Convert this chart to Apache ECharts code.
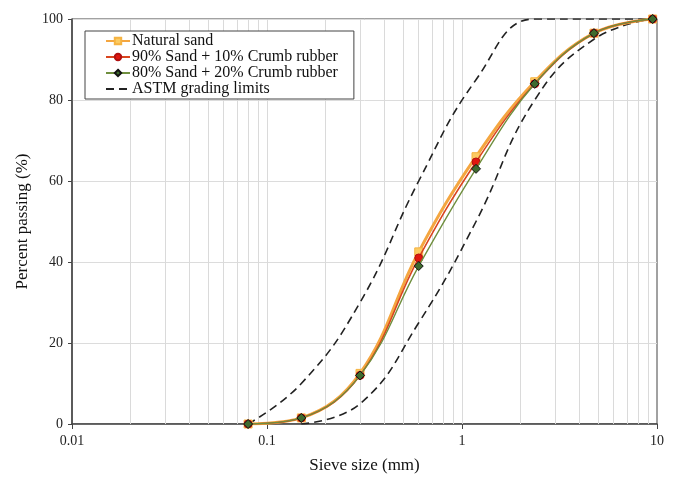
<!DOCTYPE html>
<html lang="en">
<head>
    <meta charset="UTF-8">
    <title>Grading curves</title>
    <style>
        html, body { margin: 0; padding: 0; background: #fff; }
        #main { width: 676px; height: 484px; }
    </style>
</head>
<body>
    <div id="main"></div>
</body>
<script src="https://cdn.jsdelivr.net/npm/echarts@6/dist/echarts.min.js"></script>
<script>
    // sieve sizes (mm)
    const sieves = [0.08, 0.15, 0.3, 0.6, 1.18, 2.36, 4.75, 9.5]
    const naturalSand = [0, 1.5, 12.5, 42.5, 66, 84.5, 96.5, 100]
    const rubber10 = [0, 1.5, 12, 41, 64.7, 84, 96.5, 100]
    const rubber20 = [0, 1.5, 12, 39, 63, 84, 96.5, 100]

    // ASTM C33 limits
    const upperSieves = [0.08, 0.15, 0.3, 0.6, 1.18, 2.36, 4.75, 9.5]
    const upperLimit = [0, 10, 30, 60, 85, 100, 100, 100]
    const lowerSieves = [0.15, 0.3, 0.6, 1.18, 2.36, 4.75, 9.5]
    const lowerLimit = [0, 5, 25, 50, 80, 95, 100]

    // minor log grid lines
    const minorGrid = [0.02, 0.03, 0.04, 0.05, 0.06, 0.07, 0.08, 0.09, 0.1,
        0.2, 0.3, 0.4, 0.5, 0.6, 0.7, 0.8, 0.9, 1,
        2, 3, 4, 5, 6, 7, 8, 9]

    const font = 'Liberation Serif'
    const pair = (xs, ys) => xs.map((x, i) => [x, ys[i]])

    const chart = echarts.init(document.getElementById('main'))
    chart.setOption({
        animation: false,
        textStyle: { fontFamily: font },
        grid: { left: 72, right: 19, top: 19, bottom: 60, show: true, borderColor: '#444', borderWidth: 1 },
        legend: {
            orient: 'vertical',
            left: 85,
            top: 31,
            z: 20,
            padding: [2, 16, 2, 20],
            itemGap: 0,
            itemWidth: 24,
            itemHeight: 8,
            backgroundColor: '#fff',
            borderColor: '#444',
            borderWidth: 1,
            textStyle: { fontFamily: font, fontSize: 16, lineHeight: 16, color: '#111', padding: [0, 0, 0, -3] },
            data: ['Natural sand', '90% Sand + 10% Crumb rubber', '80% Sand + 20% Crumb rubber', 'ASTM grading limits']
        },
        xAxis: {
            type: 'log',
            logBase: 10,
            min: 0.01,
            max: 10,
            name: 'Sieve size (mm)',
            nameLocation: 'middle',
            nameGap: 33,
            nameTextStyle: { fontFamily: font, fontSize: 17, color: '#111' },
            axisLine: { lineStyle: { color: '#444', width: 1.5 } },
            axisTick: { show: true, length: 5, lineStyle: { color: '#444' } },
            axisLabel: { fontFamily: font, fontSize: 14, color: '#222', margin: 10 },
            splitLine: { show: false }
        },
        yAxis: {
            type: 'value',
            min: 0,
            max: 100,
            interval: 20,
            name: 'Percent passing (%)',
            nameLocation: 'middle',
            nameGap: 40,
            nameTextStyle: { fontFamily: font, fontSize: 17, color: '#111' },
            axisLine: { show: true, lineStyle: { color: '#444', width: 1.5 } },
            axisTick: { show: true, length: 4, lineStyle: { color: '#444' } },
            axisLabel: { fontFamily: font, fontSize: 14, color: '#222', margin: 9 },
            splitLine: { show: true, lineStyle: { color: '#dcdcdc', width: 1 } }
        },
        series: [
            {
                name: 'grid',
                type: 'line',
                data: [],
                silent: true,
                z: 1,
                markLine: {
                    silent: true,
                    z: 1,
                    symbol: 'none',
                    label: { show: false },
                    lineStyle: { color: '#dadada', width: 1, type: 'solid' },
                    data: minorGrid.map(v => ({ xAxis: v }))
                }
            },
            {
                name: 'ASTM grading limits',
                type: 'line',
                data: pair(upperSieves, upperLimit),
                smooth: 0.45,
                showSymbol: false,
                symbol: 'circle',
                itemStyle: { color: 'rgba(0,0,0,0)', borderWidth: 0 },
                lineStyle: { color: '#222', width: 1.6, type: [8, 5] },
                z: 3
            },
            {
                name: 'ASTM grading limits',
                type: 'line',
                data: pair(lowerSieves, lowerLimit),
                smooth: 0.45,
                showSymbol: false,
                symbol: 'circle',
                itemStyle: { color: 'rgba(0,0,0,0)', borderWidth: 0 },
                lineStyle: { color: '#222', width: 1.6, type: [8, 5] },
                z: 3
            },
            {
                name: 'Natural sand',
                type: 'line',
                data: pair(sieves, naturalSand),
                smooth: 0.4,
                symbol: 'rect',
                symbolSize: 8,
                itemStyle: { color: '#FCCB62', borderColor: '#F5B342', borderWidth: 1 },
                lineStyle: { color: '#F4A640', width: 3 },
                z: 4
            },
            {
                name: '90% Sand + 10% Crumb rubber',
                type: 'line',
                data: pair(sieves, rubber10),
                smooth: 0.4,
                symbol: 'circle',
                symbolSize: 8,
                itemStyle: { color: '#E0160E', borderColor: '#B01010', borderWidth: 1 },
                lineStyle: { color: '#D9451E', width: 1.6 },
                z: 5
            },
            {
                name: '80% Sand + 20% Crumb rubber',
                type: 'line',
                data: pair(sieves, rubber20),
                smooth: 0.4,
                symbol: 'diamond',
                symbolSize: 9,
                itemStyle: { color: '#3F6B2E', borderColor: '#111', borderWidth: 1 },
                lineStyle: { color: '#6F8F3E', width: 1.4 },
                z: 6
            }
        ]
    })
</script>
</html>
